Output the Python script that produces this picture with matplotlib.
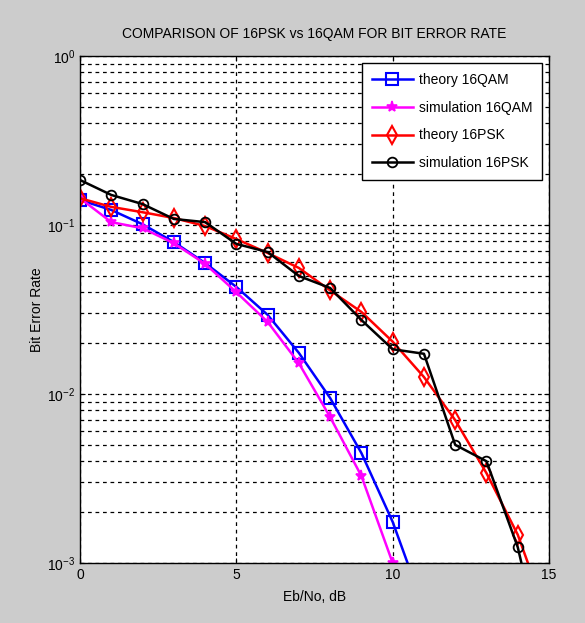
import numpy as np
import matplotlib.pyplot as plt

plt.rcParams['font.family'] = ['Liberation Sans', 'DejaVu Sans']

ebno = np.arange(0, 16)

# values (zeros = not plotted)
theory_qam = [0.1406, 0.1227, 0.101, 0.0793, 0.0596, 0.043, 0.0294, 0.0175,
              0.00946, 0.00447, 0.00175, 5.4e-4]
sim_qam = [0.144, 0.104, 0.0957, 0.078, 0.0589, 0.040, 0.0267, 0.0152,
           0.0073, 0.00327, 0.00100]
theory_psk = [0.144, 0.128, 0.119, 0.110, 0.0986, 0.0826, 0.0683, 0.0557,
              0.0410, 0.0306, 0.0204, 0.0126, 0.0070, 0.0034, 0.00147, 4.5e-4]
sim_psk = [0.1846, 0.1506, 0.133, 0.1086, 0.104, 0.0773, 0.0692, 0.0499,
           0.0424, 0.0274, 0.0184, 0.0173, 0.0050, 0.0040, 0.00124, 2.0e-4]

fig = plt.figure(figsize=(5.85, 6.23), dpi=100, facecolor='#cccccc')
ax = fig.add_axes([0.1368, 0.0963, 0.8017, 0.8138])

ax.semilogy(ebno[:len(theory_qam)], theory_qam, color='#0000ff', marker='s',
            mfc='none', ms=8, mew=1.5, lw=1.8, label='theory 16QAM')
ax.semilogy(ebno[:len(sim_qam)], sim_qam, color='#ff00ff', marker='*',
            ms=8, mew=1.2, lw=1.8, label='simulation 16QAM')
ax.semilogy(ebno[:len(theory_psk)], theory_psk, color='#ff0000', marker='d',
            mfc='none', ms=9, mew=1.5, lw=1.8, label='theory 16PSK')
ax.semilogy(ebno[:len(sim_psk)], sim_psk, color='#000000', marker='o',
            mfc='none', ms=7, mew=1.3, lw=1.8, label='simulation 16PSK')

ax.set_xlim(0, 15)
ax.set_ylim(1e-3, 1)
ax.set_xticks([0, 5, 10, 15])
ax.grid(True, which='major', color='k', ls=(0, (3, 3)), lw=0.9)
ax.grid(True, which='minor', axis='y', color='k', ls=(0, (3, 3)), lw=0.9)
ax.tick_params(which='both', direction='in', top=True, right=True, labelsize=10)
for s in ax.spines.values():
    s.set_linewidth(1.0)

ax.set_title('COMPARISON OF 16PSK vs 16QAM FOR BIT ERROR RATE', fontsize=10, pad=13)
ax.set_xlabel('Eb/No, dB', fontsize=10, labelpad=6)
ax.set_ylabel('Bit Error Rate', fontsize=10, labelpad=2)

leg = ax.legend(loc='upper right', fontsize=10, fancybox=False, edgecolor='k',
                framealpha=1, handlelength=3, handletextpad=0.4,
                labelspacing=1.0, borderaxespad=0.5, borderpad=0.7)
leg.get_frame().set_linewidth(1.0)

fig.savefig('out.png', dpi=100, facecolor=fig.get_facecolor())
